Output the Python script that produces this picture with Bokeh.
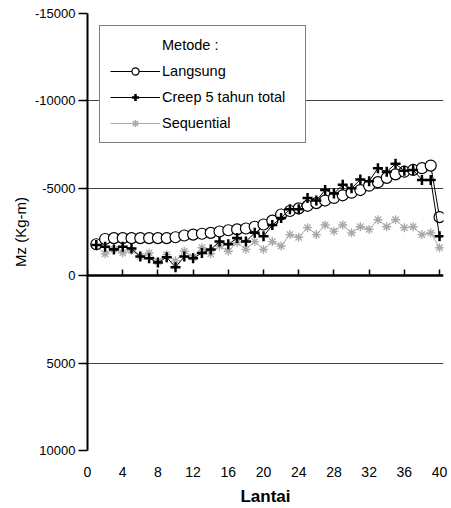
from bokeh.plotting import figure
from bokeh.models import Range1d, FixedTicker, LinearAxis, CustomJSTickFormatter
from bokeh.embed import file_html
from bokeh.resources import INLINE

floors = list(range(1, 41))
langsung = [-1800, -2100, -2150, -2150, -2150, -2150, -2150, -2150, -2150, -2200,
            -2300, -2350, -2400, -2450, -2530, -2600, -2650, -2700, -2800, -2930,
            -3150, -3500, -3700, -3850, -4000, -4150, -4300, -4450, -4600, -4750,
            -4900, -5150, -5350, -5600, -5800, -5950, -6050, -6150, -6300, -3350]
creep = [-1750, -1650, -1500, -1650, -1550, -1100, -1000, -750, -1050, -480,
         -1100, -1000, -1300, -1500, -1950, -1800, -2150, -1950, -2450, -2250,
         -2900, -3300, -3800, -3800, -4450, -4300, -4900, -4700, -5200, -5000,
         -5500, -5400, -6150, -5950, -6400, -6000, -6050, -5480, -5480, -2250]
sequential = [-1700, -1250, -1500, -1300, -1450, -1100, -1300, -800, -1200, -850,
              -1400, -1050, -1600, -1250, -1700, -1400, -1900, -1500, -1950, -1500,
              -1950, -1700, -2350, -2200, -2750, -2350, -2900, -2550, -2900, -2450,
              -2800, -2650, -3200, -2800, -3200, -2750, -2800, -2350, -2450, -1600]
x_ticks = [0, 4, 8, 12, 16, 20, 24, 28, 32, 36, 40]
y_ticks = [-15000, -10000, -5000, 0, 5000, 10000]

FONT = "Liberation Sans"

p = figure(width=451, height=508, output_backend="svg", toolbar_location=None,
           x_range=Range1d(0, 40.45), y_range=Range1d(10000, -15000),
           min_border_left=87, min_border_right=8, min_border_top=13, min_border_bottom=56)
p.outline_line_color = None
p.background_fill_color = "white"
p.xgrid.visible = False

p.yaxis.ticker = FixedTicker(ticks=y_ticks)
p.yaxis.formatter = CustomJSTickFormatter(code="return tick.toFixed(0)")
p.yaxis.axis_line_width = 2
p.yaxis.axis_line_color = "black"
p.yaxis.major_tick_in = 0
p.yaxis.major_tick_out = 9
p.yaxis.major_tick_line_width = 1.5
p.yaxis.minor_tick_line_color = None
p.yaxis.major_label_text_font = FONT
p.yaxis.major_label_text_font_size = "13px"
p.yaxis.major_label_text_color = "black"
p.yaxis.major_label_standoff = 3
p.yaxis.axis_label = "Mz (Kg-m)"
p.yaxis.axis_label_text_font = FONT
p.yaxis.axis_label_text_font_size = "15px"
p.yaxis.axis_label_text_font_style = "normal"
p.yaxis.axis_label_text_color = "black"
p.yaxis.axis_label_standoff = 3
p.ygrid.grid_line_color = "#444444"
p.ygrid.grid_line_width = 1

p.xaxis.ticker = FixedTicker(ticks=x_ticks)
p.xaxis.axis_line_color = None
p.xaxis.major_tick_line_color = None
p.xaxis.minor_tick_line_color = None
p.xaxis.major_label_standoff = 10
p.xaxis.major_label_text_font = FONT
p.xaxis.major_label_text_font_size = "14px"
p.xaxis.major_label_text_color = "black"
p.xaxis.axis_label = "Lantai"
p.xaxis.axis_label_text_font = FONT
p.xaxis.axis_label_text_font_size = "17px"
p.xaxis.axis_label_text_font_style = "bold"
p.xaxis.axis_label_text_color = "black"
p.xaxis.axis_label_standoff = 7

# axis line crossing at zero, ticks pointing up
zero_axis = LinearAxis(ticker=FixedTicker(ticks=x_ticks), fixed_location=0,
                       formatter=CustomJSTickFormatter(code="return ''"),
                       major_tick_in=0, major_tick_out=6, major_tick_line_width=1.5,
                       minor_tick_line_color=None, axis_line_width=2.5,
                       major_label_standoff=0, major_label_text_font_size="0px")
p.add_layout(zero_axis, "above")

GRAY = "#a8a8a8"
# dummy item used as legend heading
p.line(x=[], y=[], line_alpha=0, legend_label="Metode :")

p.line(floors, sequential, line_color=GRAY, line_width=1, legend_label="Sequential")
p.scatter(floors, sequential, marker="asterisk", size=9, line_color=GRAY, line_width=1.3,
          legend_label="Sequential")

p.line(floors, langsung, line_color="black", line_width=1, legend_label="Langsung")
p.scatter(floors, langsung, marker="circle", size=11, line_color="black", line_width=1.2,
          fill_color="white", legend_label="Langsung")

p.line(floors, creep, line_color="black", line_width=1, legend_label="Creep 5 tahun total")
p.scatter(floors, creep, marker="cross", size=10, line_color="black", line_width=2.5,
          legend_label="Creep 5 tahun total")

leg = p.legend[0]
items = {it.label.value: it for it in leg.items}
leg.items = [items["Metode :"], items["Langsung"], items["Creep 5 tahun total"], items["Sequential"]]
leg.location = "top_left"
leg.margin = 12
leg.padding = 10
leg.spacing = 8
leg.glyph_width = 50
leg.glyph_height = 18
leg.label_standoff = 2
leg.label_width = 133
leg.label_height = 18
leg.label_text_font = FONT
leg.label_text_font_size = "14.5px"
leg.label_text_color = "black"
leg.border_line_color = "black"
leg.border_line_width = 1.5
leg.background_fill_color = "white"
leg.background_fill_alpha = 1

open("out.html", "w").write(file_html(p, INLINE))
